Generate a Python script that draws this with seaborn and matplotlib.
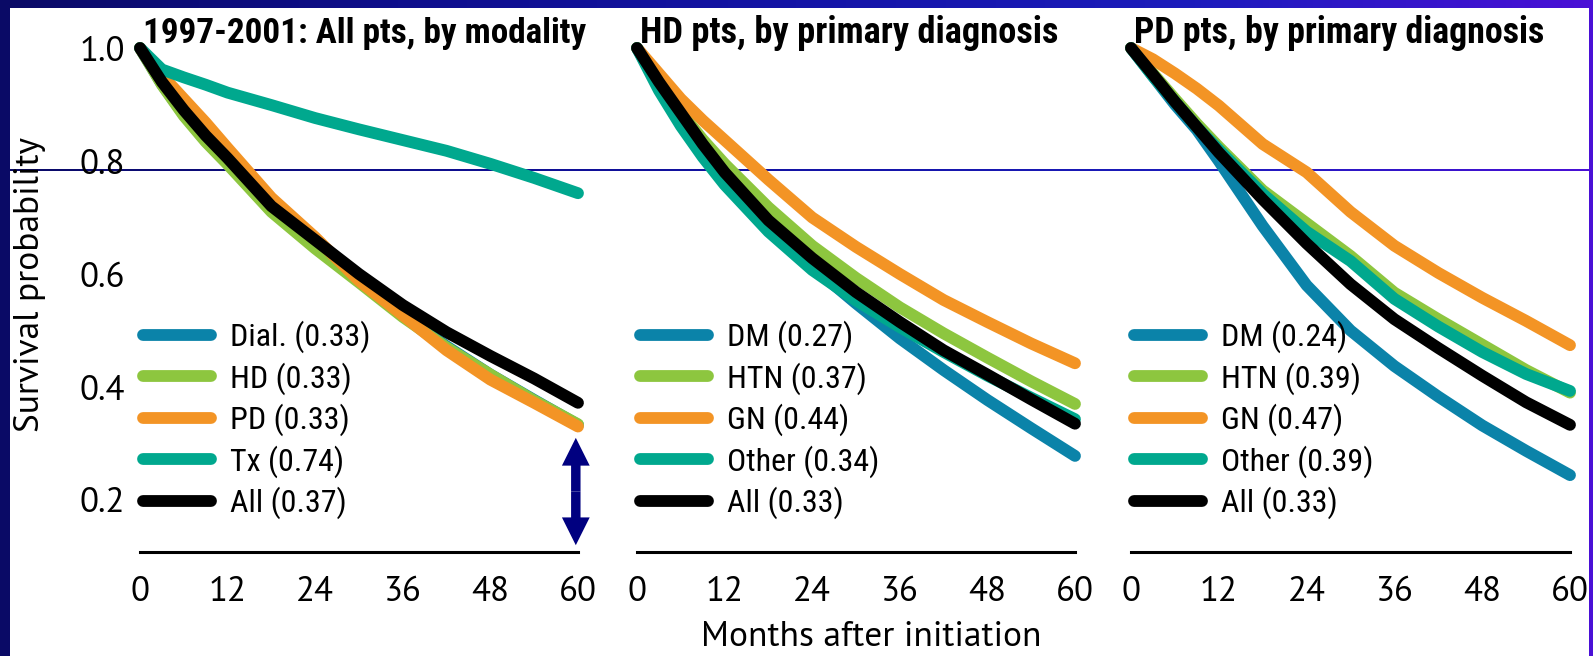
import numpy as np
import pandas as pd
import matplotlib
matplotlib.use("Agg")
import matplotlib.pyplot as plt
import seaborn as sns
from matplotlib import font_manager as fm
from matplotlib.lines import Line2D
from matplotlib.patches import Rectangle
from matplotlib.colors import LinearSegmentedColormap

# ---------------- data ----------------
months = [0, 3, 6, 9, 12, 18, 24, 30, 36, 42, 48, 54, 60]

p1_title = "1997-2001: All pts, by modality"
p1_groups = ["Dial.", "HD", "PD", "Tx", "All"]
p1_finals = ["0.33", "0.33", "0.33", "0.74", "0.37"]
p1_dial = [1.0, 0.936, 0.882, 0.836, 0.796, 0.712, 0.647, 0.587, 0.527, 0.472, 0.422, 0.377, 0.333]
p1_hd   = [1.0, 0.935, 0.880, 0.834, 0.794, 0.710, 0.645, 0.585, 0.524, 0.470, 0.422, 0.376, 0.334]
p1_pd   = [1.0, 0.952, 0.910, 0.868, 0.823, 0.735, 0.665, 0.588, 0.527, 0.465, 0.413, 0.372, 0.330]
p1_tx   = [1.0, 0.962, 0.948, 0.935, 0.921, 0.899, 0.876, 0.856, 0.837, 0.818, 0.795, 0.770, 0.743]
p1_all  = [1.0, 0.940, 0.890, 0.845, 0.805, 0.720, 0.660, 0.600, 0.545, 0.497, 0.455, 0.415, 0.372]

p2_title = "HD pts, by primary diagnosis"
p2_groups = ["DM", "HTN", "GN", "Other", "All"]
p2_finals = ["0.27", "0.37", "0.44", "0.34", "0.33"]
p2_dm    = [1.0, 0.932, 0.870, 0.815, 0.766, 0.684, 0.613, 0.548, 0.486, 0.430, 0.377, 0.327, 0.278]
p2_htn   = [1.0, 0.940, 0.886, 0.838, 0.795, 0.718, 0.650, 0.593, 0.541, 0.495, 0.452, 0.410, 0.370]
p2_gn    = [1.0, 0.955, 0.910, 0.872, 0.837, 0.767, 0.700, 0.648, 0.600, 0.554, 0.515, 0.477, 0.442]
p2_other = [1.0, 0.925, 0.862, 0.807, 0.758, 0.675, 0.607, 0.553, 0.506, 0.462, 0.420, 0.381, 0.343]
p2_all   = [1.0, 0.940, 0.885, 0.830, 0.780, 0.695, 0.628, 0.568, 0.515, 0.465, 0.422, 0.378, 0.335]

p3_title = "PD pts, by primary diagnosis"
p3_groups = ["DM", "HTN", "GN", "Other", "All"]
p3_finals = ["0.24", "0.39", "0.47", "0.39", "0.33"]
p3_dm    = [1.0, 0.950, 0.900, 0.855, 0.800, 0.685, 0.580, 0.500, 0.437, 0.383, 0.332, 0.287, 0.244]
p3_htn   = [1.0, 0.955, 0.910, 0.866, 0.825, 0.748, 0.690, 0.632, 0.567, 0.520, 0.475, 0.430, 0.390]
p3_gn    = [1.0, 0.980, 0.955, 0.928, 0.898, 0.830, 0.780, 0.710, 0.650, 0.602, 0.558, 0.517, 0.474]
p3_other = [1.0, 0.950, 0.905, 0.860, 0.820, 0.742, 0.675, 0.623, 0.556, 0.507, 0.462, 0.423, 0.393]
p3_all   = [1.0, 0.953, 0.905, 0.860, 0.815, 0.732, 0.654, 0.582, 0.520, 0.469, 0.420, 0.373, 0.333]

x_ticks = [0, 12, 24, 36, 48, 60]
y_ticks = [1.0, 0.8, 0.6, 0.4, 0.2]
y_ticklabels = ["1.0", "0.8", "0.6", "0.4", "0.2"]
x_label = "Months after initiation"
y_label = "Survival probability"

arrow_month = 59.7
arrow_top, arrow_bottom = 0.31, 0.12

colors = ["#0b83a9", "#8dc63f", "#f39425", "#00a88e", "#000000"]

# ---------------- fonts ----------------
names = {f.name for f in fm.fontManager.ttflist}

def first_font(cands, default):
    for c in cands:
        if c in names:
            return c
    return default

narrow = first_font(["Roboto Condensed", "Liberation Sans Narrow", "Archivo Narrow"], None)
regular = first_font(["PT Sans"], "Liberation Sans")
REG = [regular, "DejaVu Sans"]
NAR = [narrow, "DejaVu Sans"] if narrow else REG

if regular == "Liberation Sans":
    tick_fs, lab_fs = 24, 24
else:
    tick_fs, lab_fs = 25, 25.5

sns.set_theme(style="white")
plt.rcParams["font.family"] = REG

W, H = 1593, 656
fig = plt.figure(figsize=(W / 100, H / 100), dpi=100)

# ---------------- slide frame ----------------
bg = fig.add_axes([0, 0, 1, 1], zorder=-10)
cmap = LinearSegmentedColormap.from_list(
    "frame", ["#0a0a66", "#0e0e8c", "#1414a6", "#1c1cbc", "#4a10d6"])
bg.imshow(np.linspace(0, 1, 512)[None, :], cmap=cmap, aspect="auto",
          extent=(0, W, H, 0))
bg.add_patch(Rectangle((10, 8), 1579, 161, color="white", lw=0))
bg.add_patch(Rectangle((10, 171), 1579, H - 171, color="white", lw=0))
bg.set_xlim(0, W)
bg.set_ylim(H, 0)
bg.axis("off")

# ---------------- panels ----------------
PX_PER_UNIT = 565.0
Y1_PX = 48.0
top_px, bot_px = 40.0, 552.0
YLO = 1 - (bot_px - Y1_PX) / PX_PER_UNIT
YHI = 1 + (Y1_PX - top_px) / PX_PER_UNIT

panel_px = [(140, 578), (637, 1075), (1131, 1570)]
panels = [
    (p1_title, p1_groups, p1_finals, [p1_dial, p1_hd, p1_pd, p1_tx, p1_all]),
    (p2_title, p2_groups, p2_finals, [p2_dm, p2_htn, p2_gn, p2_other, p2_all]),
    (p3_title, p3_groups, p3_finals, [p3_dm, p3_htn, p3_gn, p3_other, p3_all]),
]
title_sizes = [25.3, 26.2, 25.8] if narrow else [22, 22, 22]

LW = 8.5
leg_fs = 23 if narrow else 20
pxpt = 100 / 72.0

axes = []
for i, ((l, r), (title, groups, finals, series)) in enumerate(zip(panel_px, panels)):
    ax = fig.add_axes([l / W, 1 - bot_px / H, (r - l) / W, (bot_px - top_px) / H])
    ax.patch.set_visible(False)
    df = pd.DataFrame({
        "month": np.tile(months, len(groups)),
        "surv": np.concatenate(series),
        "group": np.repeat(groups, len(months)),
    })
    sns.lineplot(data=df, x="month", y="surv", hue="group", hue_order=groups,
                 palette=dict(zip(groups, colors)), linewidth=LW, legend=False,
                 estimator=None, sort=False, ax=ax, solid_capstyle="round",
                 solid_joinstyle="round", clip_on=False)
    ax.set_xlim(0, 60)
    ax.set_ylim(YLO, YHI)
    for s in ["left", "right", "top"]:
        ax.spines[s].set_visible(False)
    ax.spines["bottom"].set_color("black")
    ax.spines["bottom"].set_linewidth(2.2)
    ax.set_xticks(x_ticks)
    ax.set_xticklabels([str(t) for t in x_ticks])
    ax.tick_params(axis="x", length=0, pad=17, labelsize=tick_fs, colors="black")
    if i == 0:
        ax.set_yticks(y_ticks)
        ax.set_yticklabels(y_ticklabels)
        ax.tick_params(axis="y", length=0, pad=11, labelsize=tick_fs, colors="black")
    else:
        ax.set_yticks([])
    ax.set_xlabel("")
    ax.set_ylabel("")
    ax.grid(False)

    ax.text(0.4, 1 + 5 / PX_PER_UNIT, title, ha="left", va="baseline",
            fontsize=title_sizes[i], fontweight="bold", family=NAR, color="black")

    handles = [Line2D([], [], color=c, lw=LW, solid_capstyle="round") for c in colors]
    labels = [f"{g} ({v})" for g, v in zip(groups, finals)]
    fs_px = leg_fs * pxpt
    leg = ax.legend(handles, labels, loc="center left",
                    bbox_to_anchor=(3 / (r - l), (bot_px - 420) / (bot_px - top_px)),
                    frameon=False, borderpad=0, borderaxespad=0,
                    handlelength=68 / fs_px, handletextpad=19 / fs_px,
                    labelspacing=(41.3 - 1.016 * fs_px) / fs_px,
                    prop=dict(family=NAR, size=leg_fs))
    for t in leg.get_texts():
        t.set_color("black")
    axes.append(ax)

# double-headed arrow in panel 1
mid = (arrow_top + arrow_bottom) / 2
for end in (arrow_top, arrow_bottom):
    axes[0].annotate("", xy=(arrow_month, end), xytext=(arrow_month, mid),
                     arrowprops=dict(arrowstyle="simple,head_length=1.0,head_width=1.0,tail_width=0.34",
                                     mutation_scale=20, color="#000080", lw=0,
                                     shrinkA=0, shrinkB=0),
                     annotation_clip=False)

fig.text(871 / W, 1 - 637 / H, x_label, ha="center", va="center",
         fontsize=lab_fs, color="black")
fig.text(30 / W, 1 - 285 / H, y_label, ha="center", va="center",
         rotation=90, fontsize=lab_fs, color="black")

fig.savefig("out.png", dpi=100)
